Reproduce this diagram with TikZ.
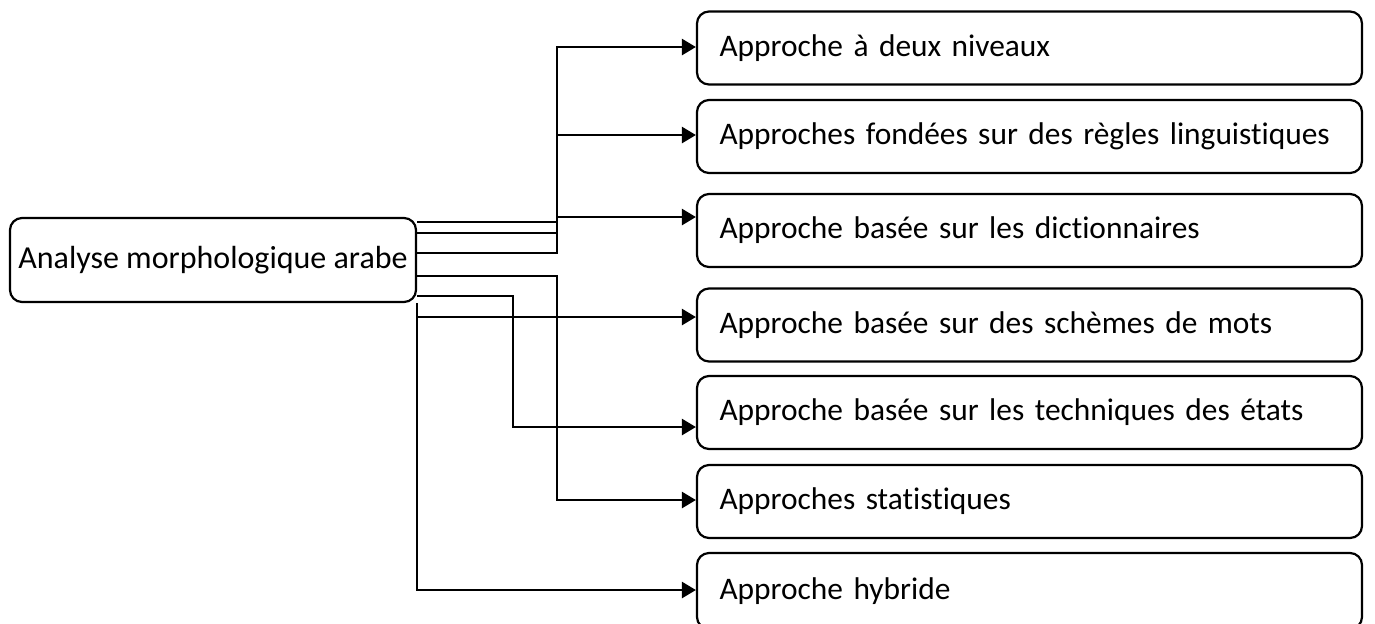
\documentclass[tikz,border=0pt]{standalone}
\usepackage{fontspec}
\setmainfont{Carlito}[Ligatures={NoCommon}]
\usepackage{tikz}
\usetikzlibrary{calc, shapes, arrows.meta}

\begin{document}
\begin{tikzpicture}[x=0.5pt,y=-0.5pt]
\tikzstyle{line} = [draw, line width=1.3pt, -{Triangle[length=7pt,width=8pt]}]
\tikzstyle{vertex}=[rectangle,draw,line width=1.1pt,rounded corners=6pt,minimum width=332.5pt,minimum height=36.5pt,text width=310pt,inner xsep=11.25pt,align=left,font=\fontsize{15.7}{19}\selectfont]
\tikzstyle{root}=[rectangle,draw,line width=1.1pt,rounded corners=6pt,minimum width=203pt,minimum height=42pt,inner sep=2pt,font=\fontsize{16}{19}\selectfont]
\useasboundingbox (0,0) rectangle (1375,623);
\node[root] (A_0) at (213,260) {Analyse morphologique arabe};
\node[vertex] (A_1) at (1029.5,48) {Approche à deux niveaux};
\node[vertex] (A_2) at (1029.5,136.5) {Approches fondées sur des règles linguistiques};
\node[vertex] (A_3) at (1029.5,230.5) {Approche basée sur les dictionnaires};
\node[vertex] (A_4) at (1029.5,325) {Approche basée sur des schèmes de mots};
\node[vertex] (A_5) at (1029.5,412.5) {Approche basée sur les techniques des états};
\node[vertex] (A_6) at (1029.5,501.5) {Approches statistiques};
\node[vertex,minimum height=38pt] (A_7) at (1029.5,591) {Approche hybride};
\path [line] (A_0.east |- 0,222) -| (557,47) -- (A_1.west |- 0,47);
\path [line] (A_0.east |- 0,233) -| (557,135) -- (A_2.west |- 0,135);
\path [line] (A_0.east |- 0,253) -| (557,217) -- (A_3.west |- 0,217);
\path [line] (A_0.east |- 0,317) -- (A_4.west |- 0,317);
\path [line] (A_0.east |- 0,296) -| (513,427) -- (A_5.west |- 0,427);
\path [line] (A_0.east |- 0,276) -| (557,500) -- (A_6.west |- 0,500);
\path [line] (A_0.south east) |- (A_7.west |- 0,590);

\end{tikzpicture}
\end{document}
